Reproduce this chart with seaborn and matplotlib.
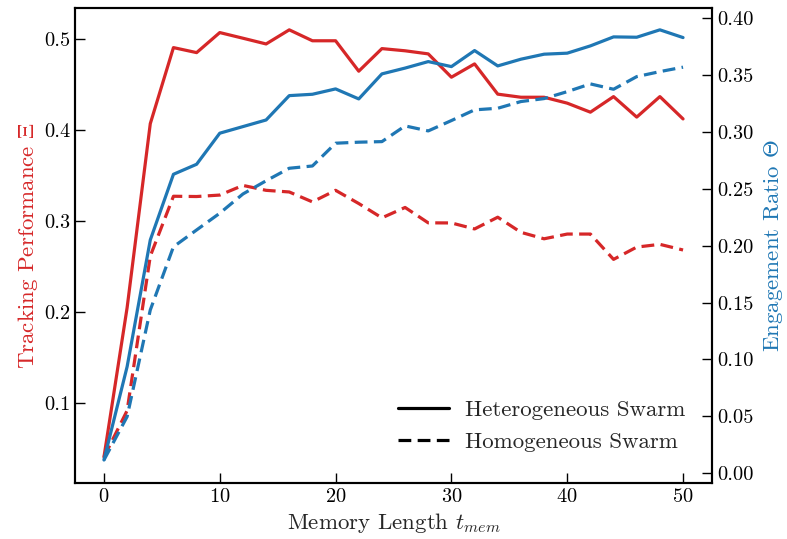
import numpy as np
import pandas as pd
import matplotlib
matplotlib.use("Agg")
import matplotlib.pyplot as plt
from matplotlib.lines import Line2D
import seaborn as sns

memory = [0, 2, 4, 6, 8, 10, 12, 14, 16, 18, 20, 22, 24, 26, 28, 30, 32, 34, 36, 38, 40, 42, 44, 46, 48, 50]

track_hetero = [0.041, 0.205, 0.407, 0.4905, 0.485, 0.507, 0.5008, 0.4945, 0.510, 0.498, 0.498, 0.4646, 0.4894,
                0.487, 0.4836, 0.458, 0.4726, 0.4394, 0.436, 0.436, 0.4295, 0.4196, 0.4367, 0.4142, 0.4367, 0.4122]
track_homo = [0.041, 0.092, 0.2616, 0.3273, 0.327, 0.3286, 0.3392, 0.3338, 0.332, 0.3211, 0.3338, 0.3193, 0.3036,
              0.315, 0.2981, 0.298, 0.2914, 0.3043, 0.2877, 0.2806, 0.2858, 0.2858, 0.258, 0.2715, 0.2745, 0.2683]
engage_hetero = [0.0117, 0.0937, 0.205, 0.2627, 0.2715, 0.2988, 0.3046, 0.3104, 0.3318, 0.333, 0.3377, 0.3289, 0.3509,
                 0.356, 0.3617, 0.3573, 0.3714, 0.3579, 0.3638, 0.3682, 0.3691, 0.3755, 0.3834, 0.3831, 0.3896, 0.3828]
engage_homo = [0.0117, 0.0498, 0.1435, 0.199, 0.2138, 0.2285, 0.2454, 0.257, 0.268, 0.27, 0.29, 0.2909, 0.2914,
               0.3052, 0.3008, 0.3099, 0.3193, 0.3207, 0.3266, 0.3292, 0.3353, 0.3421, 0.3374, 0.3485, 0.3529, 0.3568]

swarm_labels = ["Heterogeneous Swarm", "Homogeneous Swarm"]

sns.set_style("ticks")
plt.rcParams["font.family"] = "serif"
plt.rcParams["font.serif"] = ["cmr10", "DejaVu Serif"]
plt.rcParams["mathtext.fontset"] = "cm"
plt.rcParams["axes.formatter.use_mathtext"] = True
plt.rcParams["axes.unicode_minus"] = False

RED = "#d62728"
BLUE = "#1f77b4"

df = pd.DataFrame({
    "memory": memory * 2,
    "track": track_hetero + track_homo,
    "engage": engage_hetero + engage_homo,
    "swarm": [swarm_labels[0]] * len(memory) + [swarm_labels[1]] * len(memory),
})

fig = plt.figure(figsize=(7.87, 5.39), dpi=100)
ax = fig.add_axes([0.0953, 0.1039, 0.8094, 0.8813])
ax2 = ax.twinx()

styles = {swarm_labels[0]: "", swarm_labels[1]: (4, 2)}
sns.lineplot(data=df, x="memory", y="track", style="swarm", dashes=styles, color=RED,
             lw=2.3, ax=ax, legend=False)
sns.lineplot(data=df, x="memory", y="engage", style="swarm", dashes=styles, color=BLUE,
             lw=2.3, ax=ax2, legend=False)

ax.set_xlim(-2.5, 52.5)
ax.set_ylim(0.0125, 0.534)
ax2.set_ylim(-0.0085, 0.4088)
ax.set_xticks([0, 10, 20, 30, 40, 50])
ax.set_yticks([0.1, 0.2, 0.3, 0.4, 0.5])
ax2.set_yticks([0.0, 0.05, 0.10, 0.15, 0.20, 0.25, 0.30, 0.35, 0.40])
ax2.set_yticklabels([f"{v:.2f}" for v in ax2.get_yticks()])
ax.set_yticklabels([f"{v:.1f}" for v in ax.get_yticks()])

LBL = 16.5
ax.set_xlabel(r"Memory Length $t_{mem}$", fontsize=LBL, labelpad=4)
ax.set_ylabel(r"Tracking Performance $\Xi$", fontsize=LBL, color=RED, labelpad=3)
ax2.set_ylabel(r"Engagement Ratio $\Theta$", fontsize=LBL, color=BLUE, labelpad=6)

for a in (ax, ax2):
    a.tick_params(direction="in", length=7, width=1, labelsize=14.7, colors="black")
    for s in a.spines.values():
        s.set_linewidth(1.5)
        s.set_color("black")
ax.tick_params(axis="y", right=False)
ax2.yaxis.label.set_color(BLUE)
ax.yaxis.label.set_color(RED)

handles = [Line2D([], [], color="black", lw=2.3, ls="-"),
           Line2D([], [], color="black", lw=2.3, ls=(0, (4, 2)))]
ax.legend(handles, swarm_labels, loc="lower right", frameon=False, fontsize=LBL,
          handlelength=2.2, handletextpad=0.7, bbox_to_anchor=(0.99, 0.022))

fig.savefig("out.png", dpi=100)
